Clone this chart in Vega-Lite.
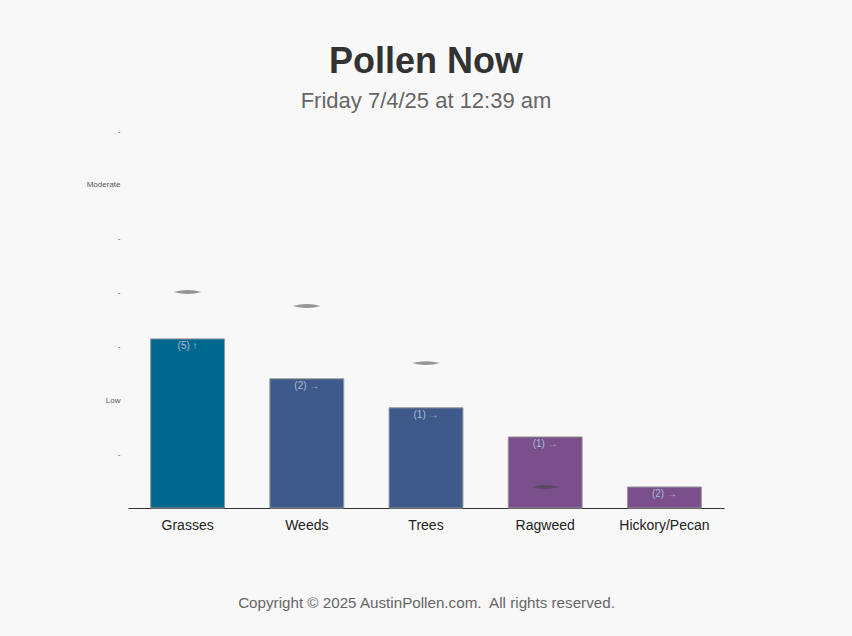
{
  "$schema": "https://vega.github.io/schema/vega-lite/v6.json",
  "width": 596,
  "height": 377,
  "autosize": {"type": "none"},
  "padding": {"left": 128, "top": 131, "right": 128, "bottom": 128},
  "background": "#f8f8f8",
  "config": {
    "view": {"stroke": null},
    "font": "Liberation Sans"
  },
  "title": {
    "text": "Pollen Now",
    "subtitle": "Friday 7/4/25 at 12:39 am",
    "anchor": "middle",
    "fontSize": 36,
    "fontWeight": "bold",
    "color": "#333333",
    "subtitleFontSize": 22,
    "subtitleColor": "#666666",
    "subtitlePadding": 10,
    "offset": 14
  },
  "data": {
    "values": [
      {"type": "Grasses", "level": 3.14, "recent": 4.01, "label": "(5) ↑", "group": "Grasses"},
      {"type": "Weeds", "level": 2.4, "recent": 3.75, "label": "(2) →", "group": "Weeds/Trees"},
      {"type": "Trees", "level": 1.86, "recent": 2.69, "label": "(1) →", "group": "Weeds/Trees"},
      {"type": "Ragweed", "level": 1.32, "recent": 0.39, "label": "(1) →", "group": "Ragweed/Hickory"},
      {"type": "Hickory/Pecan", "level": 0.39, "recent": null, "label": "(2) →", "group": "Ragweed/Hickory"}
    ]
  },
  "encoding": {
    "x": {
      "field": "type",
      "type": "nominal",
      "sort": null,
      "scale": {"paddingInner": 0.38, "paddingOuter": 0.19},
      "axis": {
        "title": "Copyright © 2025 AustinPollen.com.\u00a0 All rights reserved.",
        "titleFontSize": 15.2,
        "titleFontWeight": "normal",
        "titleColor": "#666666",
        "titlePadding": 63,
        "labelAngle": 0,
        "labelFontSize": 14,
        "labelColor": "#222222",
        "labelPadding": 10,
        "ticks": false,
        "domainColor": "#333333",
        "domainWidth": 1
      }
    }
  },
  "layer": [
    {
      "mark": {"type": "bar", "stroke": "#999999", "strokeWidth": 1},
      "encoding": {
        "y": {
          "field": "level",
          "type": "quantitative",
          "scale": {"domain": [0, 7], "nice": false},
          "axis": {
            "title": null,
            "values": [1, 2, 3, 4, 5, 6, 7],
            "labelExpr": "datum.value == 2 ? 'Low' : datum.value == 6 ? 'Moderate' : '-'",
            "labelFontSize": 8,
            "labelColor": "#555555",
            "labelPadding": 8,
            "ticks": false,
            "domain": false,
            "grid": false
          }
        },
        "color": {
          "field": "group",
          "type": "nominal",
          "scale": {
            "domain": ["Grasses", "Weeds/Trees", "Ragweed/Hickory"],
            "range": ["#00678f", "#3d5a8a", "#7a4f8a"]
          },
          "legend": null
        }
      }
    },
    {
      "mark": {"type": "text", "baseline": "top", "dy": 2, "fontSize": 10, "color": "#a9bcd4"},
      "encoding": {
        "y": {"field": "level", "type": "quantitative"},
        "text": {"field": "label"}
      }
    },
    {
      "transform": [{"filter": "datum.recent != null"}],
      "mark": {
        "type": "point",
        "shape": "M -1 0 Q 0 -0.28 1 0 Q 0 0.28 -1 0 Z",
        "size": 784,
        "filled": true,
        "color": "#444444",
        "opacity": 0.55
      },
      "encoding": {
        "y": {"field": "recent", "type": "quantitative"}
      }
    }
  ]
}
